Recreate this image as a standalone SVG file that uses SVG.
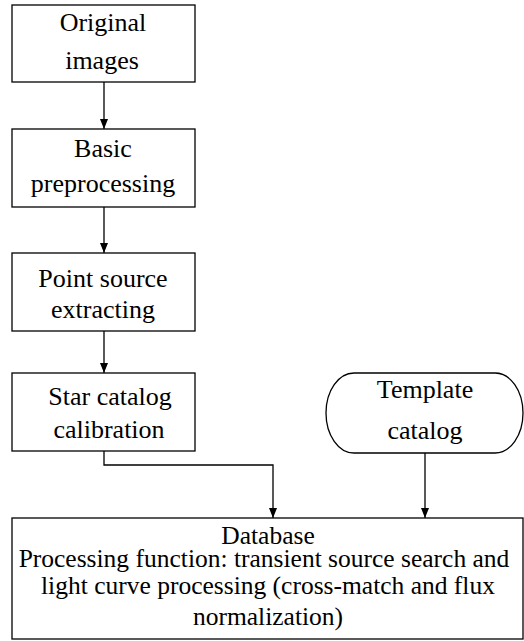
<svg xmlns="http://www.w3.org/2000/svg" width="524" height="641" viewBox="0 0 524 641">
<defs>
<style>
.box{fill:#fff;stroke:#000;stroke-width:1.3}
.t{font-family:'Liberation Serif','Times New Roman',serif;font-size:26px;fill:#000;text-anchor:middle}
.d{font-size:25.5px}
.c{fill:none;stroke:#000;stroke-width:1.3}
</style>
<marker id="ah" markerWidth="10" markerHeight="10" viewBox="0 0 10 10" refX="10" refY="5" orient="auto" markerUnits="userSpaceOnUse">
<path d="M0,1 L10,5 L0,9 Z" fill="#000"/>
</marker>
</defs>
<rect width="524" height="641" fill="#fff"/>
<g id="connectors">
<line class="c" x1="104" y1="82" x2="104" y2="129" marker-end="url(#ah)"/>
<line class="c" x1="104" y1="207" x2="104" y2="253" marker-end="url(#ah)"/>
<line class="c" x1="104" y1="331" x2="104" y2="373" marker-end="url(#ah)"/>
<polyline class="c" points="104,451 104,465 273,465 273,518" marker-end="url(#ah)"/>
<line class="c" x1="425" y1="453" x2="425" y2="518" marker-end="url(#ah)"/>
</g>
<g id="original">
<rect class="box" x="12" y="5" width="183" height="77"/>
<text class="t" x="103" y="31">Original</text>
<text class="t" x="102" y="69">images</text>
</g>
<g id="basic">
<rect class="box" x="12" y="129" width="183" height="78"/>
<text class="t" x="103" y="157">Basic</text>
<text class="t" x="103" y="192">preprocessing</text>
</g>
<g id="point">
<rect class="box" x="12" y="253" width="183" height="78"/>
<text class="t" x="103" y="287">Point source</text>
<text class="t" x="103" y="318">extracting</text>
</g>
<g id="star">
<rect class="box" x="12" y="373" width="183" height="78"/>
<text class="t" x="110" y="405">Star catalog</text>
<text class="t" x="109" y="438">calibration</text>
</g>
<g id="template">
<rect class="box" x="326" y="373" width="197" height="80" rx="28" ry="40"/>
<text class="t" x="425" y="398">Template</text>
<text class="t" x="425" y="439">catalog</text>
</g>
<g id="database">
<rect class="box" x="12" y="518" width="511" height="121"/>
<text class="t d" x="268" y="544">Database</text>
<text class="t d" x="264" y="567">Processing function: transient source search and</text>
<text class="t d" x="268" y="594">light curve processing (cross-match and flux</text>
<text class="t d" x="268" y="625">normalization)</text>
</g>
</svg>
